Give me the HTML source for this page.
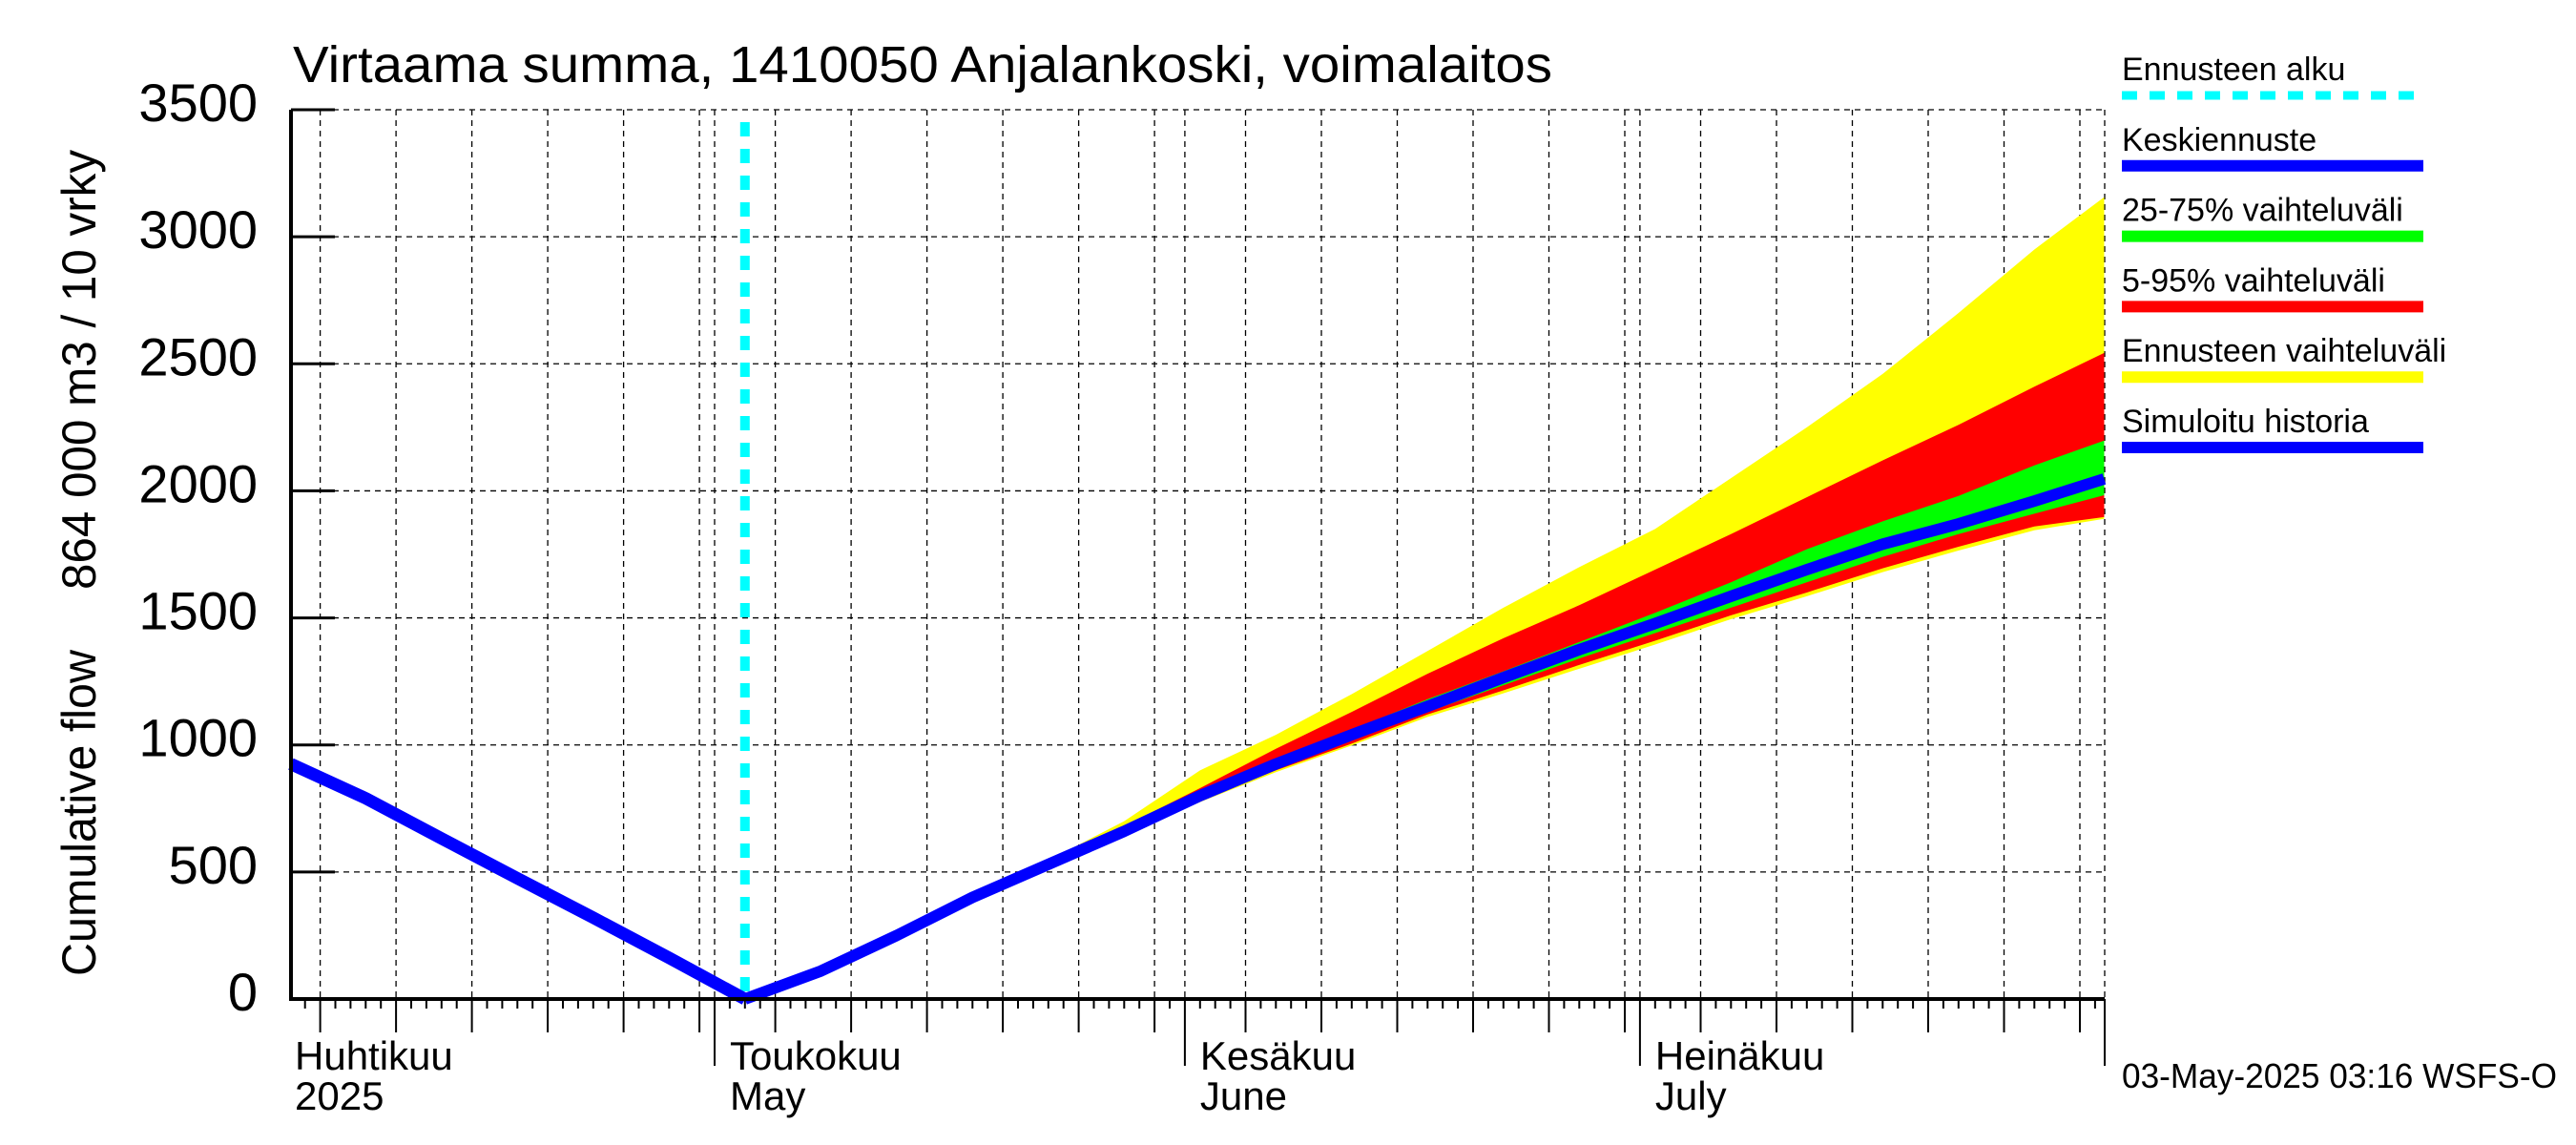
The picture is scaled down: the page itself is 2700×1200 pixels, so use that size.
<!DOCTYPE html>
<html><head><meta charset="utf-8"><style>
html,body{margin:0;padding:0;background:#fff;}
svg{display:block;font-family:"Liberation Sans",sans-serif;}
</style></head><body>
<svg id="chart" width="2700" height="1200" viewBox="0 0 2700 1200" xmlns="http://www.w3.org/2000/svg">
<rect width="2700" height="1200" fill="#fff"/>
<g id="grid"></g>
<g id="bands"></g>
<g id="lines"></g>
<g id="axes"></g>
<text x="307" y="86" font-size="54" textLength="1320" lengthAdjust="spacingAndGlyphs">Virtaama summa, 1410050 Anjalankoski, voimalaitos</text>
<g>
<text transform="translate(100,1023) rotate(-90)" font-size="50" textLength="342" lengthAdjust="spacingAndGlyphs">Cumulative flow</text>
<text transform="translate(100,618) rotate(-90)" font-size="50" textLength="461" lengthAdjust="spacingAndGlyphs">864 000 m3 / 10 vrky</text>
</g>
<g id="legend"></g>
<text x="2224" y="1140" font-size="36" textLength="456" lengthAdjust="spacingAndGlyphs">03-May-2025 03:16 WSFS-O</text>
</svg>
<script>
// ---- data ----
const histDays = [2.07, 7, 12, 17, 22, 27, 32];
const histValues = [925, 790, 632, 475, 320, 162, 0];
const fcDays = [32,37,42,47,52,57,62,67,72,77,82,87,92,97,102,107,112,117,121.6];
const medianValues = [0,110,250,400,530,660,800,925,1040,1152,1265,1375,1478,1585,1690,1790,1870,1960,2047];
const yellowHigh = [0,111,252,405,545,700,900,1040,1200,1370,1540,1700,1850,2050,2250,2460,2700,2950,3156];
const redHigh = [0,110,251,402,538,680,830,985,1130,1280,1420,1550,1690,1830,1975,2120,2260,2410,2543];
const greenHigh = [0,110,250,401,533,667,810,940,1060,1180,1290,1405,1520,1640,1770,1880,1980,2100,2198];
const greenLow = [0,110,249,399,527,653,790,910,1020,1130,1235,1340,1440,1540,1640,1740,1830,1910,1983];
const redLow = [0,110,248,398,525,648,780,900,1005,1120,1215,1315,1410,1510,1600,1695,1780,1860,1897];
const yellowLow = [0,110,247,397,523,645,775,893,998,1110,1203,1300,1395,1495,1585,1680,1765,1845,1890];
const forecastStartDay = 32;
const yTicks = [0,500,1000,1500,2000,2500,3000,3500];
const monthStarts = [0,30,61,91];
const monthLabels = [["Huhtikuu","2025"],["Toukokuu","May"],["Kesäkuu","June"],["Heinäkuu","July"]];
const monthLengths = [30,31,30,31];
const dayMin = 2.07, dayMax = 121.6;

// ---- axis functions ----
const X0=305, X1=2206, Y0=1047, Y1=115;
function x(d){ return 749 + (d-30)*15.9; }
function y(v){ return Y0 - (v/3500)*(Y0-Y1); }
const NS="http://www.w3.org/2000/svg";
function mk(tag, attrs, parent){ const e=document.createElementNS(NS,tag); for(const k in attrs) e.setAttribute(k,attrs[k]); parent.appendChild(e); return e; }
const grid=document.getElementById('grid'), bands=document.getElementById('bands'), lines=document.getElementById('lines'), axes=document.getElementById('axes'), legend=document.getElementById('legend');

yTicks.forEach(v=>{
  const g=mk('line',{x1:X0,x2:X1,y1:y(v),y2:y(v),stroke:'#000','stroke-width':1.3,'stroke-dasharray':'6,5'},grid);
  
  
  const t=mk('line',{x1:X0,x2:X0+46,y1:y(v),y2:y(v),stroke:'#000','stroke-width':3},axes);
  
  
  const l=mk('text',{x:270,y:y(v)+12,'text-anchor':'end','font-size':56},axes);
  l.textContent=String(v);
  
  
});
const rb=mk('line',{x1:X1,x2:X1,y1:Y1,y2:Y0,stroke:'#000','stroke-width':1.3,'stroke-dasharray':'6,5'},grid);



monthStarts.forEach((ms,i)=>{
  for(let dd=0; dd<monthLengths[i]; dd++){
    const d=ms+dd, date=dd+1;
    if(d<dayMin-0.01||d>dayMax+0.01) continue;
    const px=x(d);
    let len=10;
    if(dd===0) len=70; else if(date%5===0) len=35;
    if(dd===0||date%5===0){
      const gl=mk('line',{x1:px,x2:px,y1:Y1,y2:Y0,stroke:'#000','stroke-width':1.3,'stroke-dasharray':'6,5'},grid);
      
      
    }
    const tk=mk('line',{x1:px,x2:px,y1:Y0,y2:Y0+len,stroke:'#000','stroke-width':2},axes);
    
    
  }
  const lx = Math.max(x(ms), X0) + 4 + (ms===0?0:12);
  const t1=mk('text',{x:lx,y:1121,'font-size':42},axes); t1.textContent=monthLabels[i][0];
  
  
  const t2=mk('text',{x:lx,y:1163,'font-size':42},axes); t2.textContent=monthLabels[i][1];
  
  
});
const et=mk('line',{x1:X1,x2:X1,y1:Y0,y2:Y0+70,stroke:'#000','stroke-width':2},axes);



function band(hi,lo,color,name){
  let d='M'+fcDays.map((dd,i)=>x(dd)+','+y(hi[i])).join(' L');
  for(let i=fcDays.length-1;i>=0;i--) d+=' L'+x(fcDays[i])+','+y(lo[i]);
  const p=mk('path',{d:d+' Z',fill:color,stroke:'none'},bands);
  
  
}
band(yellowHigh,yellowLow,'#ffff00','band-forecast-range');
band(redHigh,redLow,'#ff0000','band-5-95');
band(greenHigh,greenLow,'#00ff00','band-25-75');

const fs=mk('line',{x1:x(forecastStartDay),x2:x(forecastStartDay),y1:128,y2:Y0,stroke:'#00ffff','stroke-width':10,'stroke-dasharray':'15,13'},lines);



const hp=mk('polyline',{points:histDays.map((d,i)=>x(d)+','+y(histValues[i])).join(' '),fill:'none',stroke:'#0000ff','stroke-width':13,'stroke-linejoin':'round'},lines);


const mp=mk('polyline',{points:fcDays.map((d,i)=>x(d)+','+y(medianValues[i])).join(' '),fill:'none',stroke:'#0000ff','stroke-width':12,'stroke-linejoin':'round'},lines);



const la=mk('line',{x1:X0,x2:X0,y1:Y1,y2:Y0+2,stroke:'#000','stroke-width':4},axes);


const ba=mk('line',{x1:X0,x2:X1,y1:Y0,y2:Y0,stroke:'#000','stroke-width':4},axes);



const legLabels=["Ennusteen alku","Keskiennuste","25-75% vaihteluväli","5-95% vaihteluväli","Ennusteen vaihteluväli","Simuloitu historia"];
const legColors=["#00ffff","#0000ff","#00ff00","#ff0000","#ffff00","#0000ff"];
legLabels.forEach((s,i)=>{
  const by=84+i*73.8;
  const t=mk('text',{x:2224,y:by,'font-size':34},legend); t.textContent=s;
  
  
  const a={x1:2224,x2:2540,y1:by+16,y2:by+16,stroke:legColors[i],'stroke-width':i===0?9:12};
  if(i===0) a['stroke-dasharray']='16,13';
  const l=mk('line',a,legend);
  
  
});
</script>
</body></html>
